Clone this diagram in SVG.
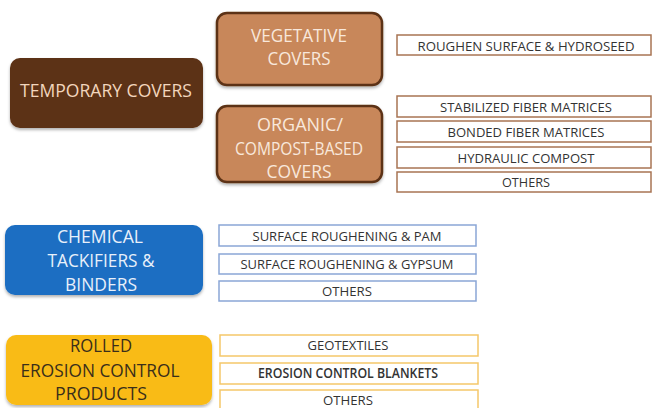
<svg xmlns="http://www.w3.org/2000/svg" width="653" height="408" viewBox="0 0 653 408">
<defs>
<filter id="sh" x="-10%" y="-10%" width="120%" height="130%">
<feDropShadow dx="0" dy="2" stdDeviation="1.5" flood-color="#000" flood-opacity="0.3"/>
</filter>
</defs>
<style>
.main{font-family:"Open Sans","Noto Sans","Liberation Sans",sans-serif;font-size:18px;text-anchor:middle}
.sub{font-family:"Open Sans","Noto Sans","Liberation Sans",sans-serif;font-size:13.5px;text-anchor:middle;fill:#333}
.bb{fill:#fff;stroke:#a87453;stroke-width:1.5}
.blb{fill:#fff;stroke:#8aa6d6;stroke-width:1.5}
.yb{fill:#fff;stroke:#f5c76a;stroke-width:1.5}
.sec{fill:#c8875a;stroke:#5c3014;stroke-width:2.5}
</style>
<rect width="653" height="408" fill="#fff"/>
<g id="temporary-covers">
<rect x="10" y="58" width="193" height="70" rx="10" fill="#5c3014" filter="url(#sh)"/>
<text class="main" x="106" y="97" fill="#f2d6bd" textLength="172" lengthAdjust="spacingAndGlyphs">TEMPORARY COVERS</text>
</g>
<g id="vegetative-covers">
<rect class="sec" x="217" y="13" width="165" height="72" rx="10" filter="url(#sh)"/>
<text class="main" x="299" y="42" fill="#f8e8dc" textLength="96" lengthAdjust="spacingAndGlyphs">VEGETATIVE</text>
<text class="main" x="299" y="65" fill="#f8e8dc" textLength="63" lengthAdjust="spacingAndGlyphs">COVERS</text>
</g>
<g id="organic-covers">
<rect class="sec" x="217" y="106" width="165" height="76" rx="10" filter="url(#sh)"/>
<text class="main" x="300" y="131" fill="#f8e8dc" textLength="86" lengthAdjust="spacingAndGlyphs">ORGANIC/</text>
<text class="main" x="299" y="155" fill="#f8e8dc" textLength="128" lengthAdjust="spacingAndGlyphs">COMPOST-BASED</text>
<text class="main" x="299" y="178" fill="#f8e8dc" textLength="65" lengthAdjust="spacingAndGlyphs">COVERS</text>
</g>
<g id="roughen-surface">
<rect class="bb" x="397" y="35" width="254" height="20"/>
<text class="sub" x="526" y="51" textLength="217" lengthAdjust="spacingAndGlyphs">ROUGHEN SURFACE &amp; HYDROSEED</text>
</g>
<g id="stabilized-fiber">
<rect class="bb" x="397" y="96" width="254" height="21"/>
<text class="sub" x="526" y="112" textLength="172" lengthAdjust="spacingAndGlyphs">STABILIZED FIBER MATRICES</text>
</g>
<g id="bonded-fiber">
<rect class="bb" x="397" y="121" width="254" height="21"/>
<text class="sub" x="526" y="137" textLength="157" lengthAdjust="spacingAndGlyphs">BONDED FIBER MATRICES</text>
</g>
<g id="hydraulic-compost">
<rect class="bb" x="397" y="147" width="254" height="21"/>
<text class="sub" x="526" y="163" textLength="137" lengthAdjust="spacingAndGlyphs">HYDRAULIC COMPOST</text>
</g>
<g id="others-organic">
<rect class="bb" x="397" y="172" width="254" height="20"/>
<text class="sub" x="526" y="187" textLength="48" lengthAdjust="spacingAndGlyphs">OTHERS</text>
</g>
<g id="chemical-tackifiers">
<rect x="5" y="225" width="198" height="70" rx="10" fill="#1b6ec2" filter="url(#sh)"/>
<text class="main" x="100" y="243" fill="#e8f0fa" textLength="86" lengthAdjust="spacingAndGlyphs">CHEMICAL</text>
<text class="main" x="101" y="267" fill="#e8f0fa" textLength="107" lengthAdjust="spacingAndGlyphs">TACKIFIERS &amp;</text>
<text class="main" x="101" y="291" fill="#e8f0fa" textLength="72" lengthAdjust="spacingAndGlyphs">BINDERS</text>
</g>
<g id="surface-pam">
<rect class="blb" x="219" y="225" width="257" height="21"/>
<text class="sub" x="347" y="241" textLength="189" lengthAdjust="spacingAndGlyphs">SURFACE ROUGHENING &amp; PAM</text>
</g>
<g id="surface-gypsum">
<rect class="blb" x="219" y="254" width="257" height="20"/>
<text class="sub" x="347" y="269" textLength="213" lengthAdjust="spacingAndGlyphs">SURFACE ROUGHENING &amp; GYPSUM</text>
</g>
<g id="others-chemical">
<rect class="blb" x="219" y="281" width="257" height="20"/>
<text class="sub" x="347" y="296" textLength="50" lengthAdjust="spacingAndGlyphs">OTHERS</text>
</g>
<g id="rolled-products">
<rect x="6" y="335" width="206" height="70" rx="10" fill="#f9bb16" filter="url(#sh)"/>
<text class="main" x="101" y="352" fill="#3a2e1a" textLength="62" lengthAdjust="spacingAndGlyphs">ROLLED</text>
<text class="main" x="100" y="377" fill="#3a2e1a" textLength="159" lengthAdjust="spacingAndGlyphs">EROSION CONTROL</text>
<text class="main" x="101" y="400" fill="#3a2e1a" textLength="92" lengthAdjust="spacingAndGlyphs">PRODUCTS</text>
</g>
<g id="geotextiles">
<rect class="yb" x="220" y="335" width="258" height="21"/>
<text class="sub" x="348" y="350" textLength="81" lengthAdjust="spacingAndGlyphs">GEOTEXTILES</text>
</g>
<g id="erosion-blankets">
<rect class="yb" x="220" y="363" width="258" height="21"/>
<text class="sub" x="348" y="378" font-weight="600" fill="#1a1a1a" textLength="180" lengthAdjust="spacingAndGlyphs">EROSION CONTROL BLANKETS</text>
</g>
<g id="others-rolled">
<rect class="yb" x="220" y="390" width="258" height="21"/>
<text class="sub" x="348" y="405" textLength="50" lengthAdjust="spacingAndGlyphs">OTHERS</text>
</g>
<g id="connectors"></g>
</svg>
